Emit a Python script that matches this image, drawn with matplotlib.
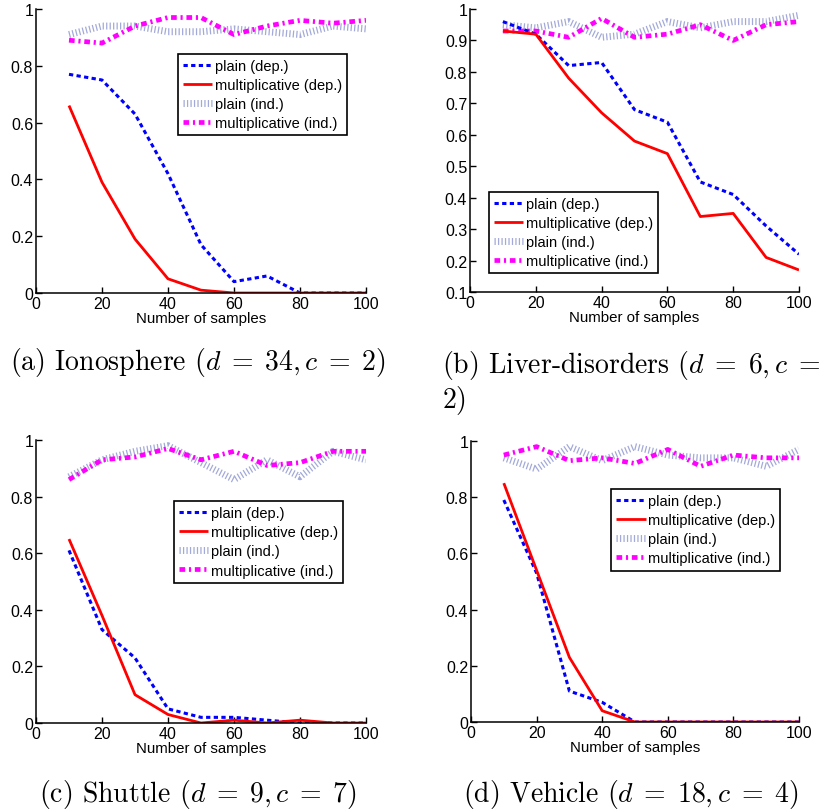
import matplotlib

matplotlib.use("Agg")
import matplotlib.pyplot as plt

samples = [10, 20, 30, 40, 50, 60, 70, 80, 90, 100]
series_labels = ["plain (dep.)", "multiplicative (dep.)", "plain (ind.)", "multiplicative (ind.)"]

# (a) Ionosphere
iono_plain_dep = [0.77, 0.75, 0.63, 0.42, 0.17, 0.04, 0.06, 0.0, 0.0, 0.0]
iono_mult_dep = [0.66, 0.39, 0.19, 0.05, 0.01, 0.0, 0.0, 0.0, 0.0, 0.0]
iono_plain_ind = [0.91, 0.94, 0.94, 0.92, 0.92, 0.93, 0.92, 0.91, 0.94, 0.93]
iono_mult_ind = [0.89, 0.88, 0.94, 0.97, 0.97, 0.91, 0.94, 0.96, 0.95, 0.96]

# (b) Liver-disorders
liver_plain_dep = [0.96, 0.92, 0.82, 0.83, 0.68, 0.64, 0.45, 0.41, 0.31, 0.22]
liver_mult_dep = [0.93, 0.92, 0.78, 0.67, 0.58, 0.54, 0.34, 0.35, 0.21, 0.17]
liver_plain_ind = [0.95, 0.94, 0.96, 0.91, 0.92, 0.96, 0.94, 0.96, 0.96, 0.98]
liver_mult_ind = [0.93, 0.93, 0.91, 0.97, 0.91, 0.92, 0.95, 0.90, 0.95, 0.96]

# (c) Shuttle
shuttle_plain_dep = [0.61, 0.33, 0.23, 0.05, 0.02, 0.02, 0.01, 0.0, 0.0, 0.0]
shuttle_mult_dep = [0.65, 0.38, 0.10, 0.03, 0.0, 0.01, 0.0, 0.01, 0.0, 0.0]
shuttle_plain_ind = [0.87, 0.93, 0.96, 0.98, 0.92, 0.86, 0.93, 0.87, 0.96, 0.93]
shuttle_mult_ind = [0.86, 0.93, 0.94, 0.97, 0.93, 0.96, 0.91, 0.92, 0.96, 0.96]

# (d) Vehicle
vehicle_plain_dep = [0.79, 0.53, 0.11, 0.07, 0.0, 0.0, 0.0, 0.0, 0.0, 0.0]
vehicle_mult_dep = [0.85, 0.54, 0.23, 0.04, 0.0, 0.0, 0.0, 0.0, 0.0, 0.0]
vehicle_plain_ind = [0.94, 0.90, 0.98, 0.93, 0.98, 0.95, 0.94, 0.94, 0.91, 0.97]
vehicle_mult_ind = [0.95, 0.98, 0.93, 0.94, 0.92, 0.97, 0.91, 0.95, 0.94, 0.94]

x_ticks = [0, 20, 40, 60, 80, 100]
y_ticks_full = [0, 0.2, 0.4, 0.6, 0.8, 1]
y_ticks_liver = [0.1, 0.2, 0.3, 0.4, 0.5, 0.6, 0.7, 0.8, 0.9, 1]

W, H = 821, 812
plt.rcParams["font.family"] = ["Liberation Sans", "DejaVu Sans"]
plt.rcParams["mathtext.fontset"] = "cm"

STYLES = [
    dict(color="#0000ff", lw=2.2, ls=(0, (1.4, 1.1))),
    dict(color="#ff0000", lw=2.0, ls="-"),
    dict(color="#a3aad8", lw=5.0, ls=(0, (0.18, 0.32))),
    dict(color="#ff00ff", lw=3.4, ls=(0, (1.2, 0.8, 0.45, 0.8))),
]


def px_rect(left, top, right, bottom):
    return [left / W, 1 - bottom / H, (right - left) / W, (bottom - top) / H]


def draw_panel(ax, series, yticks, ylim, legend_loc, legend_anchor):
    # plain (ind.) is drawn first so that the other lines sit on top of it
    order = [2, 3, 0, 1]
    handles = [None] * 4
    for i in order:
        st = STYLES[i]
        (h,) = ax.plot(samples, series[i], color=st["color"], lw=st["lw"],
                       ls=st["ls"], label=series_labels[i], solid_capstyle="butt",
                       dash_capstyle="butt")
        handles[i] = h
    ax.set_xlim(0, 100)
    ax.set_ylim(*ylim)
    ax.set_xticks(x_ticks)
    ax.set_yticks(yticks)
    ax.set_yticklabels([f"{t:g}" for t in yticks])
    ax.spines["top"].set_visible(False)
    ax.spines["right"].set_visible(False)
    for s in ("left", "bottom"):
        ax.spines[s].set_linewidth(1.1)
    ax.tick_params(direction="in", length=4, width=1.0, labelsize=11.5, pad=2)
    ax.set_xlabel("Number of samples", fontsize=10.8, labelpad=0)
    leg = ax.legend(handles, series_labels, loc=legend_loc,
                    bbox_to_anchor=legend_anchor, fontsize=10.5,
                    fancybox=False, framealpha=1, edgecolor="black",
                    handlelength=2.0, handletextpad=0.15, labelspacing=0.35,
                    borderpad=0.35, borderaxespad=0)
    leg.get_frame().set_linewidth(1.2)


fig = plt.figure(figsize=(W / 100, H / 100), dpi=100)

ax_a = fig.add_axes(px_rect(36, 10, 366, 294))
draw_panel(ax_a, [iono_plain_dep, iono_mult_dep, iono_plain_ind, iono_mult_ind],
           y_ticks_full, (0, 1), "upper right", (0.942, 0.842))

ax_b = fig.add_axes(px_rect(470, 10, 799, 293))
draw_panel(ax_b, [liver_plain_dep, liver_mult_dep, liver_plain_ind, liver_mult_ind],
           y_ticks_liver, (0.1, 1), "lower left", (0.058, 0.067))

ax_c = fig.add_axes(px_rect(36, 441, 366, 724))
draw_panel(ax_c, [shuttle_plain_dep, shuttle_mult_dep, shuttle_plain_ind, shuttle_mult_ind],
           y_ticks_full, (0, 1), "upper right", (0.930, 0.784))

ax_d = fig.add_axes(px_rect(471, 442, 799, 723))
draw_panel(ax_d, [vehicle_plain_dep, vehicle_mult_dep, vehicle_plain_ind, vehicle_mult_ind],
           y_ticks_full, (0, 1), "upper right", (0.942, 0.829))

cap_kw = dict(fontsize=20, family="cmr10", va="center")
fig.text(198 / W, 1 - 363 / H, r"(a) Ionosphere $(d\;=\;34,c\;=\;2)$", ha="center", **cap_kw)
fig.text(442 / W, 1 - 365 / H, r"(b) Liver-disorders $(d\;=\;6,c\;=$", ha="left", **cap_kw)
fig.text(442 / W, 1 - 401 / H, r"$2)$", ha="left", **cap_kw)
fig.text(198 / W, 1 - 795 / H, r"(c) Shuttle $(d\;=\;9,c\;=\;7)$", ha="center", **cap_kw)
fig.text(631 / W, 1 - 795 / H, r"(d) Vehicle $(d\;=\;18,c\;=\;4)$", ha="center", **cap_kw)

fig.savefig("out.png", dpi=100)
